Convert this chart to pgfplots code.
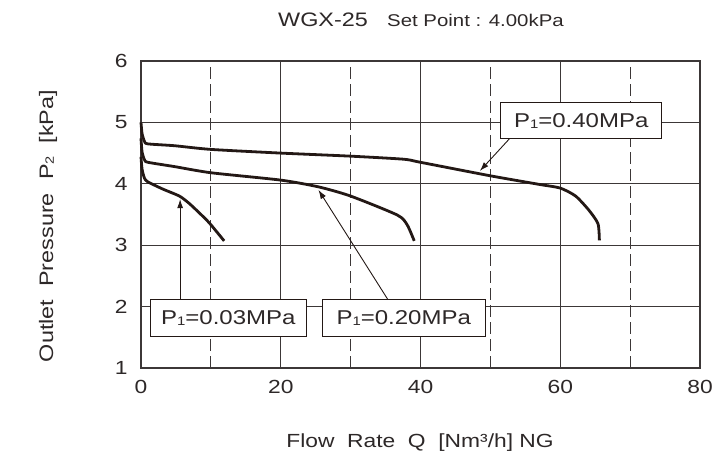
\documentclass[border=0pt]{standalone}
\usepackage{pgfplots}
\pgfplotsset{compat=1.18}
\usetikzlibrary{arrows.meta}
\usepackage{fontspec}
\setmainfont{Liberation Sans}[FakeStretch=1.2]
\definecolor{ink}{RGB}{35,24,21}
\definecolor{gridc}{RGB}{60,55,55}
\definecolor{txt}{RGB}{45,40,40}
\newcommand\sub[1]{\raisebox{-0.05em}{\scalebox{0.62}{#1}}}
\begin{document}
\begin{tikzpicture}
\path[use as bounding box] (0,0) rectangle (722pt,454pt);
\begin{axis}[
  at={(141pt,86pt)}, anchor=south west,
  scale only axis, width=559pt, height=307pt,
  xmin=0, xmax=80, ymin=1, ymax=6,
  xtick={0,20,40,60,80}, minor xtick={10,30,50,70},
  ytick={1,2,3,4,5,6},
  xmajorgrids, xminorgrids, ymajorgrids,
  major grid style={gridc, line width=1.1pt},
  minor grid style={gridc, line width=1.1pt, dash pattern=on 12pt off 5pt},
  axis line style={gridc, line width=1.2pt},
  tick style={gridc, line width=1.1pt},
  tick align=inside, xtick pos=left, ytick pos=left,
  major tick length=5pt, minor tick length=5pt,
  /pgf/number format/assume math mode=true,
  tick label style={font=\fontsize{19}{22}\selectfont, text=txt},
  xticklabel style={yshift=-9pt},
  yticklabel style={xshift=-10pt},
  clip=false,
]
\addplot[ink, line width=2.8pt, smooth, tension=0.4] coordinates {
 (0,5.0) (0.15,4.82) (0.5,4.69) (1,4.65) (4.8,4.62) (10,4.56) (20,4.50) (30,4.45)
 (37.6,4.40) (40,4.35) (50,4.13) (57,3.99) (60,3.93) (62.2,3.80) (64.1,3.57) (65.4,3.35) (65.6,3.08)
};
\addplot[ink, line width=2.8pt, smooth, tension=0.4] coordinates {
 (0,4.74) (0.15,4.52) (0.5,4.39) (1,4.35) (4.8,4.28) (10,4.18) (20,4.06) (25.4,3.95)
 (30,3.80) (36.7,3.49) (38.1,3.33) (39.1,3.07)
};
\addplot[ink, line width=2.8pt, smooth, tension=0.4] coordinates {
 (0,4.44) (0.15,4.24) (0.5,4.09) (1,4.03) (3.2,3.91) (5.5,3.80) (6.9,3.68) (8.4,3.52) (9.8,3.36) (11.9,3.07)
};
\draw[ink, line width=0.9pt, -{Latex[length=9pt,width=6pt]}] (axis cs:52.7,4.73) -- (axis cs:48.5,4.21);
\draw[ink, line width=0.9pt, -{Latex[length=9pt,width=6pt]}] (axis cs:35.3,2.12) -- (axis cs:25.4,3.90);
\draw[ink, line width=0.9pt, -{Latex[length=9pt,width=6pt]}] (axis cs:5.6,2.05) -- (axis cs:5.6,3.75);
\node[draw=ink, line width=0.9pt, fill=white, minimum width=161pt, minimum height=36pt, inner sep=0pt, text=txt, font=\fontsize{20}{24}\selectfont] at (axis cs:63.0,5.03) {P\sub{1}=0.40MPa};
\node[draw=ink, line width=0.9pt, fill=white, minimum width=156pt, minimum height=37pt, inner sep=0pt, text=txt, font=\fontsize{20}{24}\selectfont] at (axis cs:12.5,1.82) {P\sub{1}=0.03MPa};
\node[draw=ink, line width=0.9pt, fill=white, minimum width=163pt, minimum height=37pt, inner sep=0pt, text=txt, font=\fontsize{20}{24}\selectfont] at (axis cs:37.6,1.82) {P\sub{1}=0.20MPa};
\end{axis}
\node[anchor=base west, text=txt, inner sep=0pt, font=\fontsize{19.5}{22}\selectfont] at (278pt,427pt) {WGX-25};
\node[anchor=base west, text=txt, inner sep=0pt, font=\fontsize{17}{20}\selectfont] at (387pt,427pt) {Set Point : 4.00kPa};
\node[anchor=base, text=txt, inner sep=0pt, font=\fontsize{19}{22}\selectfont] at (420pt,6pt) {Flow\ \ Rate\ \ Q\ \ [Nm³/h]\ NG};
\node[anchor=base, rotate=90, text=txt, inner sep=0pt, font=\fontsize{19.5}{22}\selectfont] at (53pt,228pt) {Outlet\ \ Pressure\ \ P\sub{2}\ \ [kPa]};
\end{tikzpicture}
\end{document}
